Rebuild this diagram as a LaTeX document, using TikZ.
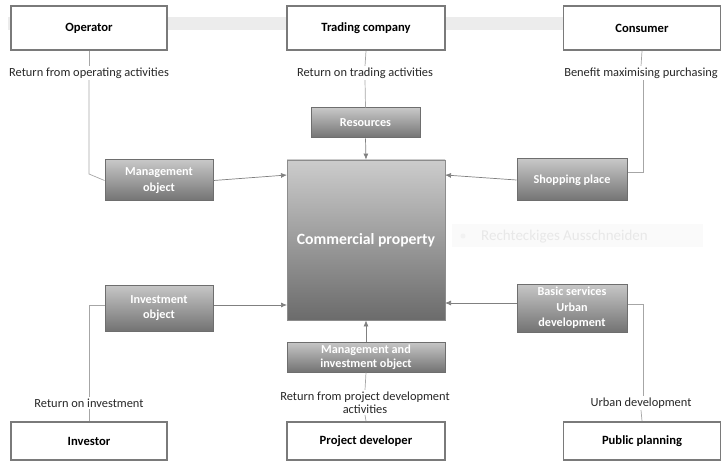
\documentclass[tikz,border=0pt]{standalone}
\usepackage{fontspec}
\setmainfont{Carlito}
\usetikzlibrary{arrows.meta,calc}
\definecolor{edgegray}{HTML}{808080}
\definecolor{linegray}{HTML}{A6A6A6}
\definecolor{boxborder}{HTML}{7A7A7A}
\definecolor{shadeborder}{HTML}{6E6E6E}
\definecolor{bandgray}{HTML}{ECECEC}
\begin{document}
\begin{tikzpicture}[x=1pt,y=-1pt,
  actor/.style={draw=boxborder,line width=1.8pt,fill=white,minimum width=156pt,
    minimum height=44pt,font=\bfseries\fontsize{12.6}{14}\selectfont,inner sep=2pt},
  role/.style={draw=shadeborder,line width=1pt,top color=black!22,bottom color=black!55,
    text=white,font=\bfseries\fontsize{12.2}{15.5}\selectfont,align=center,inner sep=0.5pt},
  core/.style={draw=black!45,line width=0.8pt,top color=black!20,bottom color=black!58,
    text=white,font=\bfseries\fontsize{15.7}{18}\selectfont,minimum width=158pt,minimum height=160pt},
  note/.style={font=\fontsize{12.4}{13}\selectfont,text=black!85,align=center,inner sep=1.5pt},
  link/.style={draw=linegray,line width=0.7pt},
  feed/.style={draw=edgegray,line width=0.7pt,-{Latex[length=6pt,width=5pt]}}]
\useasboundingbox (0,0) rectangle (722,462);

% faint band behind the top row
\fill[bandgray] (8,17) rectangle (710,30);

% faint overlay label at the right of the centre
\fill[black!2] (452,224) rectangle (703,247);
\fill[black!5] (463,236) circle (2.5pt);
\node[anchor=west,text=black!9,font=\fontsize{15}{17}\selectfont,inner sep=0pt] (overlay) at (481,236.5) {Rechteckiges Ausschneiden};

% stakeholders
\node[actor] (op) at (89,28) {Operator};
\node[actor,minimum width=158pt] (tr) at (366,28) {Trading company};
\node[actor,minimum width=157pt] (co) at (642,28) {Consumer};
\node[actor,minimum height=38pt] (inv) at (89,441) {Investor};
\node[actor,minimum width=158pt,minimum height=38pt] (pd) at (366,441) {Project developer};
\node[actor,minimum width=157pt,minimum height=38pt] (pp) at (642,441) {Public planning};

% motives
\node[note] (opL) at (89,73) {Return from operating activities};
\node[note] (trL) at (365,73) {Return on trading activities};
\node[note] (coL) at (641,73) {Benefit maximising purchasing};
\node[note] (invL) at (89,403) {Return on investment};
\node[note] (pdL) at (365,402.5) {Return from project development\\activities};
\node[note] (ppL) at (641,403) {Urban development};

% centre
\node[core] (cp) at (366,240) {Commercial property};

% roles of the property
\node[role,minimum width=108pt,minimum height=41pt] (mo) at (159,180.5) {Management\\object};
\node[role,minimum width=109pt,minimum height=30pt] (res) at (365.5,123) {Resources};
\node[role,minimum width=110pt,minimum height=42pt] (sp) at (572,180) {Shopping place};
\node[role,minimum width=108pt,minimum height=46pt] (io) at (159,308) {Investment\\object};
\node[role,minimum width=110pt,minimum height=48pt] (bs) at (572,308) {Basic services\\Urban\\development};
\node[role,minimum width=158pt,minimum height=30pt,font=\bfseries\fontsize{12.2}{14}\selectfont] (mio) at (366,357) {Management and\\investment object};

% attachment points on the centre box
\coordinate (cpTL) at (287,175);
\coordinate (cpTR) at (445,175);
\coordinate (cpBL) at (287,305);
\coordinate (cpBR) at (445,303);
\coordinate (opBend) at (89,174);
\coordinate (coBend) at (643,172);
\coordinate (invBend) at (89,305);
\coordinate (ppBend) at (643,304);

% stakeholder to motive
\draw[link] (op.south) -- (opL.north);
\draw[link] (tr.south) -- (trL.north);
\draw[link] (co.south) -- (coL.north);
\draw[link] (invL.south) -- (inv.north);
\draw[link] (pdL.south) -- (pd.north);
\draw[link] (ppL.south) -- (pp.north);

% motive to role
\draw[link] (opL.south) -- (opBend) -- (mo.west);
\draw[link] (trL.south) -- (res.north);
\draw[link] (coL.south -| coBend) -- (coBend) -- (sp.east |- coBend);
\draw[link] (invL.north) -- (invBend) -- (io.west |- invBend);
\draw[link] (mio.south) -- (pdL.north);
\draw[link] (ppL.north -| ppBend) -- (ppBend) -- (bs.east |- ppBend);

% role to property
\draw[feed] (mo.east) -- (cpTL);
\draw[feed] (res.south) -- (cp.north);
\draw[feed] (sp.west) -- (cpTR);
\draw[feed] (io.east |- cpBL) -- (cpBL);
\draw[feed] (bs.west |- cpBR) -- (cpBR);
\draw[feed] (mio.north) -- (cp.south);
\end{tikzpicture}
\end{document}
